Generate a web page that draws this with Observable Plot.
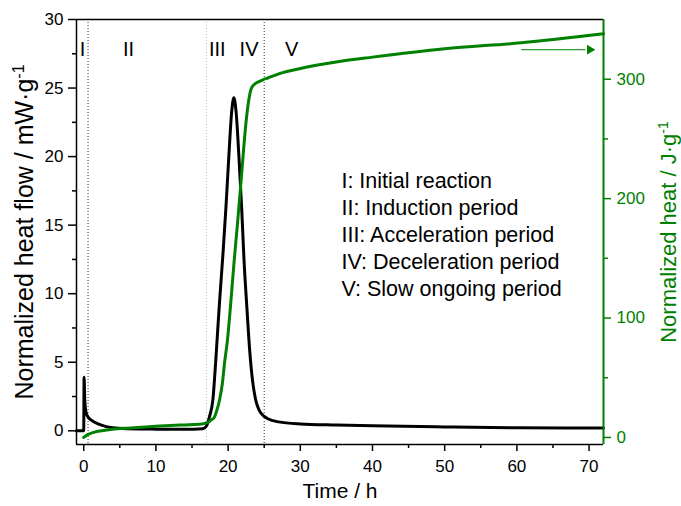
<!DOCTYPE html>
<html>
<head>
<meta charset="utf-8">
<script src="https://cdn.jsdelivr.net/npm/d3@7"></script>
<script src="https://cdn.jsdelivr.net/npm/@observablehq/plot@0.6"></script>
<style>
  html, body { margin: 0; padding: 0; background: white; }
</style>
</head>
<body>
<div id="chart"></div>
<script>
// ---- Data ----
const heatFlowTime = [-1, 0, 0.05, 0.15, 0.3, 0.6, 1, 2, 3, 4, 6, 10, 14, 16.5, 17.0, 17.4, 17.9, 18.3, 18.8, 19.3, 19.7, 20.1, 20.5, 20.8, 21.1, 21.5, 21.9, 22.2, 22.6, 23.0, 23.4, 23.8, 24.3, 25, 25.5, 27, 30, 35, 40, 50, 60, 72];
const heatFlowValue = [0, 0, 3.9, 2.2, 1.4, 1.0, 0.8, 0.5, 0.32, 0.22, 0.15, 0.12, 0.11, 0.15, 0.35, 1.0, 2.3, 5.2, 9.3, 13, 16.3, 20, 23.3, 24.3, 23.3, 20, 16, 12.5, 9, 5.8, 3.6, 2.3, 1.5, 1.05, 0.88, 0.65, 0.5, 0.42, 0.36, 0.28, 0.22, 0.2];

const heatTime = [0, 0.3, 0.8, 1.5, 2.5, 4, 6, 8, 10, 12, 14, 16, 16.8, 17.3, 17.6, 18.1, 18.4, 18.8, 19.2, 19.5, 19.9, 20.4, 20.8, 21.3, 21.8, 22.2, 22.5, 22.8, 23.2, 23.7, 24.3, 24.8, 25.5, 27, 30, 35.6, 40, 50, 60.6, 72];
const heatValue = [0, 1.5, 3, 4.5, 5.6, 6.8, 7.8, 8.6, 9.3, 10, 10.5, 11, 11.8, 13, 14.5, 17, 22, 31, 45, 62, 81, 115, 145, 179, 215, 245, 265, 280, 292, 296, 298, 299.5, 301, 304.5, 309, 315, 318.5, 325.5, 330.5, 338];

const periodLabels = ["I", "II", "III", "IV", "V"];
const periodLabelTime = [-0.15, 6.2, 18.5, 22.9, 28.8];
const periodBoundaries = [0.6, 25];
const faintBoundaries = [17];

const legendLines = [
  "I: Initial reaction",
  "II: Induction period",
  "III: Acceleration period",
  "IV: Deceleration period",
  "V: Slow ongoing period"
];

const xMajor = [0, 10, 20, 30, 40, 50, 60, 70];
const xMinor = [5, 15, 25, 35, 45, 55, 65];
const yMajor = [0, 5, 10, 15, 20, 25, 30];
const yMinor = [2.5, 7.5, 12.5, 17.5, 22.5, 27.5];
const rMajor = [0, 100, 200, 300];
const rMinor = [50, 150, 250];

const arrowFrom = [60.6, 324.7]; // time, heat (right axis)
const arrowTo = [70.7, 324.7];

const xDomain = [-1, 72];
const yDomain = [-1, 30];
const rDomain = [-5.9, 350];

const GREEN = "#008000";
const FONT = "'Liberation Sans', Arial, sans-serif";

// map right-axis values into left-axis (y scale) units
const toLeft = r => yDomain[0] + (r - rDomain[0]) / (rDomain[1] - rDomain[0]) * (yDomain[1] - yDomain[0]);
const fromLeft = y => rDomain[0] + (y - yDomain[0]) / (yDomain[1] - yDomain[0]) * (rDomain[1] - rDomain[0]);

const flow = heatFlowTime.map((t, i) => ({t, v: heatFlowValue[i]}));
const heat = heatTime.map((t, i) => ({t, v: toLeft(heatValue[i])}));
const periods = periodLabels.map((s, i) => ({s, t: periodLabelTime[i]}));

const chart = Plot.plot({
  width: 681,
  height: 506,
  marginLeft: 76,
  marginRight: 78,
  marginTop: 19,
  marginBottom: 62,
  x: {domain: xDomain},
  y: {domain: yDomain},
  style: {fontFamily: FONT, fontSize: "17px", background: "white", color: "black"},
  marks: [
    // period boundaries
    Plot.ruleX(faintBoundaries, {stroke: "#bbbbbb", strokeWidth: 1, strokeDasharray: "1,2"}),
    Plot.ruleX(periodBoundaries, {stroke: "#333", strokeWidth: 1, strokeDasharray: "1,2"}),
    // frame
    Plot.ruleX([xDomain[0]], {stroke: "black", strokeWidth: 1.5}),
    Plot.ruleY([yDomain[0], yDomain[1]], {stroke: "black", strokeWidth: 1.5}),
    // axes
    Plot.axisX({ticks: xMajor, tickSize: 7, tickPadding: 8, label: null, fontSize: 17, strokeWidth: 1.5}),
    Plot.axisX({ticks: xMinor, tickSize: 4, tickFormat: () => "", label: null, strokeWidth: 1.5}),
    Plot.axisY({anchor: "left", ticks: yMajor, tickSize: 8, tickPadding: 5, label: null, fontSize: 17, strokeWidth: 1.5}),
    Plot.axisY({anchor: "left", ticks: yMinor, tickSize: 4, tickFormat: () => "", label: null, strokeWidth: 1.5}),
    Plot.axisY({anchor: "right", ticks: rMajor.map(toLeft), tickFormat: d => String(Math.round(fromLeft(d))),
      tickSize: 7, tickPadding: 6, label: null, fontSize: 17, color: GREEN, strokeWidth: 1.5}),
    Plot.axisY({anchor: "right", ticks: rMinor.map(toLeft), tickFormat: () => "", tickSize: 4, label: null, color: GREEN, strokeWidth: 1.5}),
    // curves
    Plot.line(flow, {x: "t", y: "v", stroke: "black", strokeWidth: 3, curve: "monotone-x"}),
    Plot.line(heat, {x: "t", y: "v", stroke: GREEN, strokeWidth: 3, curve: "monotone-x"}),
    Plot.ruleX([xDomain[1]], {stroke: GREEN, strokeWidth: 2}),
    // arrow
    Plot.link([{}], {x1: arrowFrom[0], y1: toLeft(arrowFrom[1]), x2: arrowTo[0] - 1.2, y2: toLeft(arrowTo[1]), stroke: GREEN, strokeWidth: 1}),
    Plot.dot([{}], {x: arrowTo[0] - 0.6, y: toLeft(arrowTo[1]), symbol: "triangle", r: 3.6, fill: GREEN, stroke: "none", rotate: 90}),
    // period labels
    Plot.text(periods, {x: "t", y: 27.83, text: "s", fontSize: 20, fill: "black"}),
    // legend block
    Plot.text([legendLines.join("\n")], {x: 35.7, y: 14.38, textAnchor: "start", fontSize: 21.5, lineHeight: 1.256, fill: "black"}),
    // axis titles
    Plot.text(["Time / h"], {frameAnchor: "bottom", dy: 53, fontSize: 21, fill: "black"}),
    Plot.text(["Normalized heat flow / mW·g"], {frameAnchor: "left", textAnchor: "middle", dx: -52, rotate: -90, fontSize: 25, fill: "black", className: "ylab-left"}),
    Plot.text(["Normalized heat / J·g"], {frameAnchor: "right", textAnchor: "middle", dx: 65, rotate: -90, fontSize: 22, fill: GREEN, className: "ylab-right"})
  ]
});

// add superscript "-1" to the axis titles
for (const cls of ["ylab-left", "ylab-right"]) {
  chart.querySelectorAll("." + cls + " text").forEach(t => {
    const base = t.textContent;
    t.textContent = "";
    const ns = "http://www.w3.org/2000/svg";
    const a = document.createElementNS(ns, "tspan");
    a.textContent = base;
    const b = document.createElementNS(ns, "tspan");
    b.textContent = "-1";
    b.setAttribute("dy", "-0.55em");
    b.setAttribute("font-size", cls === "ylab-left" ? "16" : "14");
    t.appendChild(a);
    t.appendChild(b);
  });
}

document.getElementById("chart").appendChild(chart);
</script>
</body>
</html>
